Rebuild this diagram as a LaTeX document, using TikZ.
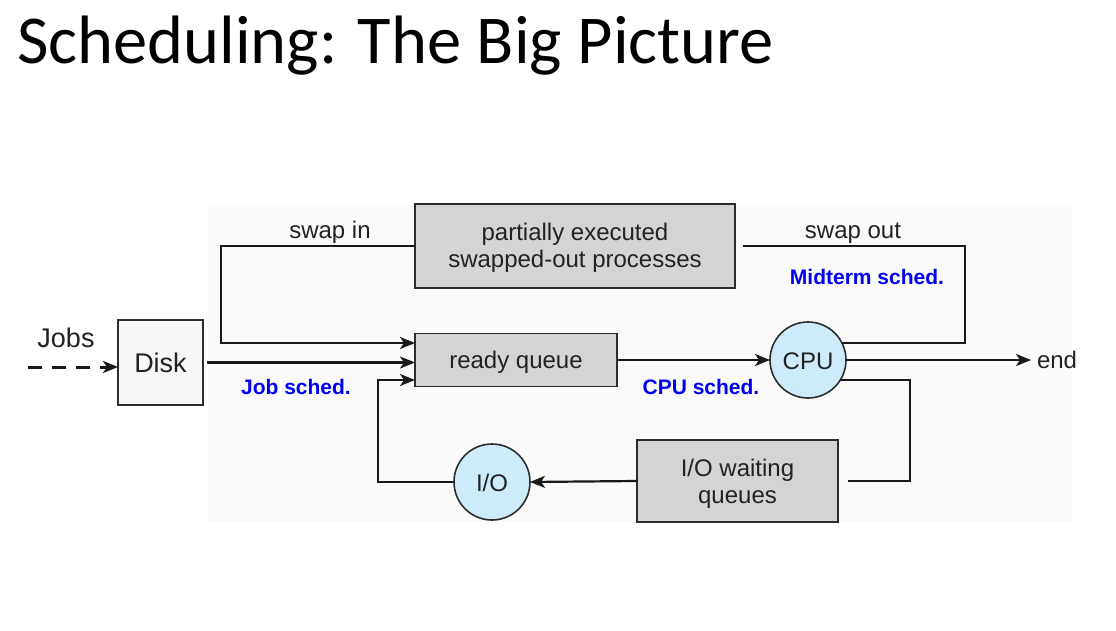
\documentclass[tikz,border=0pt]{standalone}
\usepackage{fontspec}
\setmainfont{Liberation Sans}
\newfontfamily\titlefam{Carlito}
\usetikzlibrary{arrows.meta}
\definecolor{panelbg}{RGB}{250,250,250}
\definecolor{boxfill}{RGB}{212,212,212}
\definecolor{diskfill}{RGB}{247,247,247}
\definecolor{resfill}{RGB}{205,235,249}
\definecolor{edgecol}{RGB}{45,45,45}
\definecolor{linecol}{RGB}{26,26,26}
\definecolor{txtcol}{RGB}{34,34,34}
\definecolor{schedblue}{RGB}{0,0,245}
\begin{document}
\begin{tikzpicture}[x=1pt,y=-1pt,
  every node/.style={inner sep=0pt,outer sep=0pt,text=txtcol},
  body/.style={font=\fontsize{24}{27}\selectfont},
  qbox/.style={body,draw=edgecol,fill=boxfill,line width=1.6pt,align=center},
  diskbox/.style={draw=edgecol,fill=diskfill,line width=1.2pt,
    font=\fontsize{27}{30}\selectfont,minimum size=85pt},
  res/.style={body,circle,draw=edgecol,fill=resfill,line width=1.6pt,minimum size=76pt},
  sched/.style={font=\fontsize{21}{24}\selectfont\bfseries,text=schedblue,anchor=base},
  lbl/.style={body,anchor=base},
  wire/.style={draw=linecol,line width=2.2pt},
  arr/.style={wire,-{Stealth[length=15pt,width=12pt,inset=4pt]}},
  dasharr/.style={arr,line width=3pt,dash pattern=on 14pt off 10pt}]
\useasboundingbox (0,0) rectangle (1116,631);
% soft panel behind the diagram
\fill[panelbg] (208,204) rectangle (1072,522);

% heading
\node[anchor=base west,font=\titlefam\fontsize{68.5}{70}\selectfont,text=black] (title) at (17,64) {Scheduling: The Big Picture};

% queues, storage and resources
\node[qbox,minimum width=320pt,minimum height=84pt] (pe) at (575,246) {\rule{0pt}{21pt}partially executed\\swapped-out processes};
\node[qbox,minimum width=202pt,minimum height=53pt] (rq) at (516,360) {\rule{0pt}{21pt}ready queue};
\node[qbox,minimum width=201pt,minimum height=82pt] (iowq) at (737.5,481) {\rule{0pt}{23pt}I/O waiting\\queues};
\node[diskbox] (disk) at (160.5,362.5) {Disk};
\node[res] (cpu) at (808,360) {\rule{0pt}{20pt}CPU};
\node[res] (iodev) at (492,482) {\rule{0pt}{20pt}I/O};
\node[body,anchor=west] (endlbl) at (1037,360) {end};
\node[anchor=base,font=\fontsize{27}{30}\selectfont] (jobs) at (66,347) {Jobs};

% plain labels
\node[lbl] (swin) at (330,238) {swap in};
\node[lbl] (swout) at (853,238) {swap out};
\node[sched] (midsched) at (867,284) {Midterm sched.};
\node[sched] (jobsched) at (296,394) {Job sched.};
\node[sched] (cpusched) at (701,394) {CPU sched.};

% bend points
\coordinate (jstart) at (28,367);
\coordinate (swinB) at (221,343);
\coordinate (soR) at (965,246);
\coordinate (ioR) at (910,481);
\coordinate (ioL) at (378,380);

% connectors
\draw[dasharr] (jstart) -- (jstart -| disk.west);
\draw[arr,shorten <=4pt] (disk.east) -- (disk.east -| rq.west);
\draw[arr] (pe.west) -| (swinB) -- (swinB -| rq.west);
\draw[arr] (rq.east) -- (cpu.west);
\draw[arr,shorten >=6pt] (cpu.east) -- (endlbl.west);
\draw[wire] (cpu.27) -| (soR) -- ([xshift=8pt]pe.east);
\draw[wire] (cpu.-32) -| (ioR) -- ([xshift=10pt]iowq.east);
\draw[arr] (iowq.west) -- (iodev.east);
\draw[arr] (iodev.west) -| (ioL) -- (ioL -| rq.west);
\end{tikzpicture}
\end{document}
